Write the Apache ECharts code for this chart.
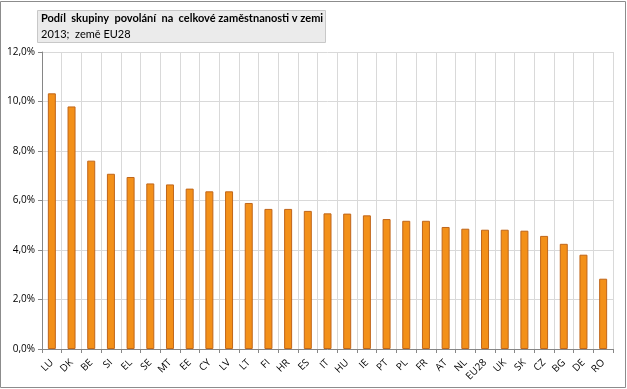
<!DOCTYPE html>
<html><head><meta charset="utf-8">
<script src="https://cdn.jsdelivr.net/npm/echarts@6/dist/echarts.min.js"></script>
<style>html,body{margin:0;padding:0;background:#fff}#c{width:627px;height:389px}</style>
</head><body><div id="c"></div>
<script>
const categories = ["LU","DK","BE","SI","EL","SE","MT","EE","CY","LV","LT","FI","HR","ES","IT","HU","IE","PT","PL","FR","AT","NL","EU28","UK","SK","CZ","BG","DE","RO"];
const values = [10.33,9.80,7.61,7.08,6.95,6.69,6.65,6.48,6.37,6.37,5.90,5.66,5.66,5.58,5.48,5.47,5.40,5.25,5.18,5.18,4.93,4.86,4.82,4.82,4.78,4.57,4.25,3.81,2.84];
const yTicks = [0,2,4,6,8,10,12];
const titleText = "Podíl  skupiny  povolání  na  celkové zaměstnanosti v zemi";
const subtitleText = "2013;  země EU28";

const chart = echarts.init(document.getElementById('c'), null, {renderer:'canvas'});
const font = "'Open Sans', 'Noto Sans', sans-serif";
const tfont = "Lato, 'Open Sans', sans-serif";
chart.setOption({
  animation:false,
  textStyle:{fontFamily:font},
  graphic:[
    {type:'rect', shape:{x:0.5,y:1.5,width:625,height:386}, style:{fill:'none', stroke:'#8c8c8c', lineWidth:1}, z:-1},
    {type:'rect', shape:{x:37.5,y:10.5,width:288,height:32}, style:{fill:'#ebebeb', stroke:'#c8c8c8', lineWidth:1}},
    {type:'text', x:41, y:13, style:{text:titleText, font:"bold 11px "+tfont, fill:'#000'}},
    {type:'text', x:41, y:29, style:{text:subtitleText, font:"11px "+tfont, fill:'#000'}}
  ],
  grid:{left:42, right:14, top:52, bottom:40},
  xAxis:{
    type:'category', data:categories, boundaryGap:true,
    axisLine:{lineStyle:{color:'#868686'}},
    axisTick:{show:true, alignWithLabel:false, length:4, lineStyle:{color:'#868686'}},
    splitLine:{show:true, lineStyle:{color:'#d9d9d9', width:1}},
    axisLabel:{rotate:45, interval:0, fontSize:10, color:'#000', margin:12, fontFamily:font}
  },
  yAxis:{
    type:'value', min:0, max:12, interval:2,
    axisLine:{show:true, lineStyle:{color:'#868686'}},
    axisTick:{show:true, length:4, lineStyle:{color:'#868686'}},
    splitLine:{show:true, lineStyle:{color:'#d9d9d9', width:1}},
    axisLabel:{fontSize:10, color:'#000', margin:7, fontFamily:font,
      formatter:v=> yTicks.includes(v) ? v.toFixed(1).replace('.',',')+'%' : ''}
  },
  series:[{
    type:'bar', data:values, barWidth:8,
    itemStyle:{color:'#f39019', borderColor:'#c0661a', borderWidth:1}
  }]
});
</script></body></html>
